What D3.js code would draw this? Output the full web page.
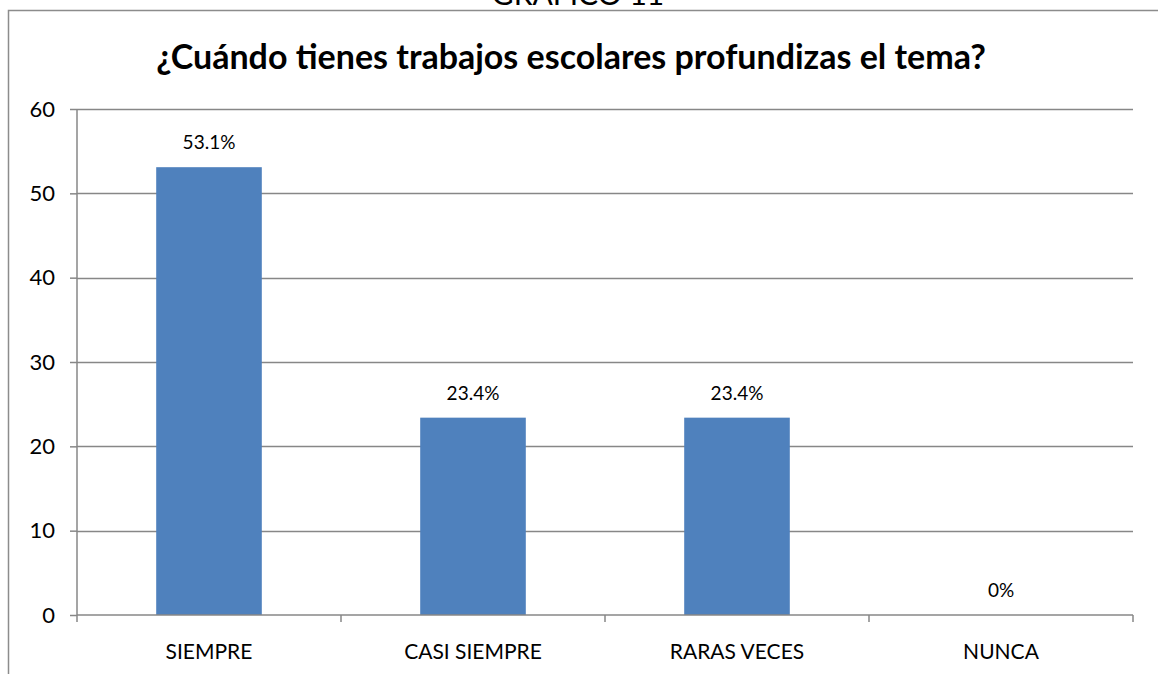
<!DOCTYPE html>
<html>
<head>
<meta charset="utf-8">
<script src="https://cdn.jsdelivr.net/npm/d3@7"></script>
<style>
  body { margin: 0; background: #fff; }
  svg { display: block; font-family: Lato, "Open Sans", sans-serif; }
</style>
</head>
<body>
<div id="chart"></div>
<script>
const categories = ["SIEMPRE", "CASI SIEMPRE", "RARAS VECES", "NUNCA"];
const values = [53.1, 23.4, 23.4, 0];
const labels = ["53.1%", "23.4%", "23.4%", "0%"];
const yTicks = [0, 10, 20, 30, 40, 50, 60];

const W = 1158, H = 674;
const svg = d3.select("#chart").append("svg")
    .attr("width", W)
    .attr("height", H);

// outer chart frame (partly outside the window)
svg.append("rect")
    .attr("x", 8.5).attr("y", 10.5)
    .attr("width", 1200).attr("height", 700)
    .attr("fill", "none")
    .attr("stroke", "#8c8c8c")
    .attr("stroke-width", 1.5);

// caption, mostly above the window like in the source
svg.append("text")
    .attr("x", 578).attr("y", 5)
    .attr("text-anchor", "middle")
    .attr("font-size", 30)
    .attr("fill", "#000")
    .text("GRAFICO 11");

svg.append("text")
    .attr("x", 571).attr("y", 69)
    .attr("text-anchor", "middle")
    .attr("font-size", 34)
    .attr("font-weight", "bold")
    .text("¿Cuándo tienes trabajos escolares profundizas el tema?");

const margin = { left: 77, right: 25, top: 109, bottom: 59 };
const x = d3.scaleBand()
    .domain(categories)
    .range([margin.left, W - margin.right])
    .paddingInner(0.6)
    .paddingOuter(0.3);
const y = d3.scaleLinear()
    .domain([0, 60])
    .range([H - margin.bottom, margin.top]);

// gridlines
svg.append("g")
    .selectAll("line")
    .data(yTicks.filter(d => d > 0))
    .join("line")
    .attr("x1", margin.left).attr("x2", W - margin.right)
    .attr("y1", d => Math.round(y(d)) + 0.5).attr("y2", d => Math.round(y(d)) + 0.5)
    .attr("stroke", "#878787")
    .attr("stroke-width", 1.5);

// bars
svg.append("g")
    .selectAll("rect")
    .data(values)
    .join("rect")
    .attr("x", (d, i) => x(categories[i]))
    .attr("y", d => y(d))
    .attr("width", x.bandwidth())
    .attr("height", d => y(0) - y(d))
    .attr("fill", "#4F81BD");

// y axis
const yAxis = svg.append("g")
    .attr("transform", `translate(${margin.left},0)`)
    .call(d3.axisLeft(y).tickValues(yTicks).tickSize(7).tickPadding(15));
yAxis.selectAll("line").attr("stroke", "#878787").attr("stroke-width", 1.5);
yAxis.select(".domain").attr("stroke", "#878787").attr("stroke-width", 1.5)
    .attr("d", `M0,${margin.top}V${y(0)}`);
yAxis.selectAll("text").attr("font-size", 22).attr("fill", "#000")
    .attr("font-family", "Lato, 'Open Sans', sans-serif");

// x axis: ticks at category boundaries
const step = (W - margin.right - margin.left) / categories.length;
const bounds = d3.range(categories.length + 1).map(i => margin.left + i * step);
const xg = svg.append("g");
xg.append("line")
    .attr("x1", margin.left).attr("x2", W - margin.right)
    .attr("y1", y(0)).attr("y2", y(0))
    .attr("stroke", "#878787").attr("stroke-width", 1.5);
xg.selectAll(".tk")
    .data(bounds)
    .join("line")
    .attr("class", "tk")
    .attr("x1", d => d).attr("x2", d => d)
    .attr("y1", y(0)).attr("y2", y(0) + 7)
    .attr("stroke", "#878787").attr("stroke-width", 1.5);
xg.selectAll("text")
    .data(categories)
    .join("text")
    .attr("x", d => x(d) + x.bandwidth() / 2)
    .attr("y", y(0) + 44)
    .attr("text-anchor", "middle")
    .attr("font-size", 21)
    .text(d => d);

// data labels
svg.append("g")
    .selectAll("text")
    .data(values)
    .join("text")
    .attr("x", (d, i) => x(categories[i]) + x.bandwidth() / 2)
    .attr("y", d => y(d) - 18)
    .attr("text-anchor", "middle")
    .attr("font-size", 19)
    .text((d, i) => labels[i]);
</script>
</body>
</html>
